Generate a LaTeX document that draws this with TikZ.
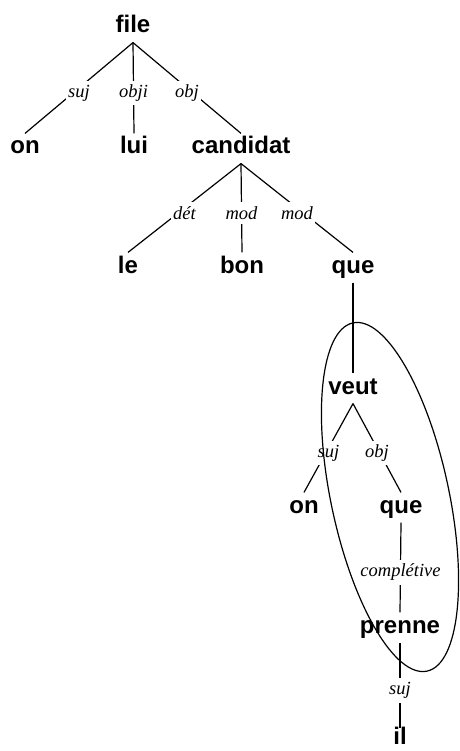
\documentclass[tikz,border=0pt]{standalone}
\usepackage{fontspec}
\setmainfont{Liberation Serif}
\newfontfamily\wordfont{Liberation Sans}
\usepackage{tikz}

\begin{document}
\begin{tikzpicture}[x=1pt, y=-1pt, line width=1.2pt,
    word/.style={anchor=base, inner xsep=1pt, inner ysep=4pt, text height=16pt, text depth=5pt,
      font=\wordfont\fontsize{24}{26}\selectfont\bfseries},
    rel/.style={midway, fill=white, inner xsep=2pt, inner ysep=4pt, yshift=-5pt,
      font=\fontsize{18.5}{20}\selectfont\itshape}]
                \useasboundingbox (0,0) rectangle (459,751);
                \clip (0,0) rectangle (459,751);

                % Nodes
                \node[word] (file) at (133,33) {file};
                \node[word] (on1) at (25,154) {on};
                \node[word] (lui) at (134,154) {lui};
                \node[word] (candidat) at (241,154) {candidat};
                \node[word] (le) at (128,273) {le};
                \node[word] (bon) at (242,273) {bon};
                \node[word] (que1) at (353,273) {que};
                \node[word] (veut) at (353,394) {veut};
                \node[word] (on2) at (304,513) {on};
                \node[word] (que2) at (401,513) {que};
                \node[word] (prenne) at (400,633) {prenne};
                \node[word, text depth=0pt, inner ysep=1pt] (il) at (400,744) {il};

                % Edges
                \draw (file.south) -- node[rel] {suj} (on1.north);
                \draw (file.south) -- node[rel] {obji} (lui.north);
                \draw (file.south) -- node[rel] {obj} (candidat.north);
                \draw (candidat.south) -- node[rel] {dét} (le.north);
                \draw (candidat.south) -- node[rel] {mod} (bon.north);
                \draw (candidat.south) -- node[rel] {mod} (que1.north);
                \draw (que1.south) -- (veut.north);
                \draw (veut.south) -- node[rel] {suj} (on2.north);
                \draw (veut.south) -- node[rel] {obj} (que2.north);
                \draw (que2.south) -- node[rel] {complétive} (prenne.north);
                \draw (prenne.south) -- node[rel] {suj} ([yshift=-2pt]il.north);

                % Ring
                \coordinate (ring) at (390,497);
                \draw[rotate around={12:(ring)}] (ring) ellipse [x radius=59pt, y radius=178pt];
            \end{tikzpicture}
\end{document}
